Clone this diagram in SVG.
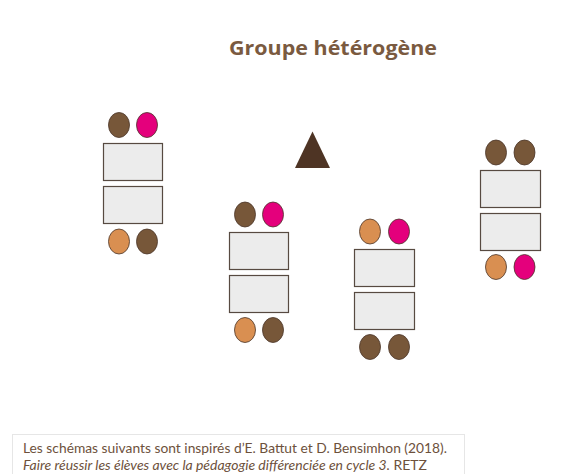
<svg xmlns="http://www.w3.org/2000/svg" width="579" height="474" viewBox="0 0 579 474">
  <style>
    .desk { fill: #ececec; stroke: #574a41; stroke-width: 1.2; }
    .p { stroke: #4a3528; stroke-width: 0.8; }
    .brown { fill: #775739; }
    .pink { fill: #e4007c; }
    .orange { fill: #d98f51; }
    .title { font-family: "Open Sans", "Liberation Sans", sans-serif; font-weight: bold; font-size: 20px; fill: #7a5a40; }
    .note { font-family: "Lato", "Liberation Sans", sans-serif; font-size: 13.5px; fill: #6d513c; }
  </style>
  <defs>
    <ellipse id="pupil" cx="0" cy="0" rx="10.5" ry="12.5"/>
  </defs>
  <rect width="579" height="474" fill="#ffffff"/>

  <text class="title" x="333" y="55" text-anchor="middle" textLength="208" lengthAdjust="spacingAndGlyphs">Groupe hétérogène</text>

  <!-- teacher -->
  <g id="teacher">
    <polygon points="312.5,131.5 295,168 330,168" fill="#4e3424"/>
  </g>

  <!-- group 1 -->
  <g id="group1">
    <rect class="desk" x="103.5" y="143.5" width="59" height="37"/>
    <rect class="desk" x="103.5" y="186.5" width="59" height="37"/>
    <ellipse class="p brown" cx="119" cy="125" rx="10.5" ry="12.5"/>
    <ellipse class="p pink" cx="147" cy="125" rx="10.5" ry="12.5"/>
    <ellipse class="p orange" cx="119" cy="241.5" rx="10.5" ry="12.5"/>
    <ellipse class="p brown" cx="147" cy="241.5" rx="10.5" ry="12.5"/>
  </g>

  <!-- group 2 -->
  <g id="group2">
    <rect class="desk" x="229.5" y="232.5" width="59" height="37"/>
    <rect class="desk" x="229.5" y="275.5" width="59" height="37"/>
    <ellipse class="p brown" cx="245" cy="214.5" rx="10.5" ry="12.5"/>
    <ellipse class="p pink" cx="273" cy="214.5" rx="10.5" ry="12.5"/>
    <ellipse class="p orange" cx="245" cy="330" rx="10.5" ry="12.5"/>
    <ellipse class="p brown" cx="273" cy="330" rx="10.5" ry="12.5"/>
  </g>

  <!-- group 3 -->
  <g id="group3">
    <rect class="desk" x="354.5" y="249.5" width="60" height="37"/>
    <rect class="desk" x="354.5" y="292.5" width="60" height="37"/>
    <ellipse class="p orange" cx="370" cy="231.5" rx="10.5" ry="12.5"/>
    <ellipse class="p pink" cx="399" cy="231.5" rx="10.5" ry="12.5"/>
    <ellipse class="p brown" cx="370" cy="347" rx="10.5" ry="12.5"/>
    <ellipse class="p brown" cx="399" cy="347" rx="10.5" ry="12.5"/>
  </g>

  <!-- group 4 -->
  <g id="group4">
    <rect class="desk" x="480.5" y="170.5" width="60" height="37"/>
    <rect class="desk" x="480.5" y="213.5" width="60" height="37"/>
    <ellipse class="p brown" cx="496" cy="152.5" rx="10.5" ry="12.5"/>
    <ellipse class="p brown" cx="524.5" cy="152.5" rx="10.5" ry="12.5"/>
    <ellipse class="p orange" cx="496" cy="267" rx="10.5" ry="12.5"/>
    <ellipse class="p pink" cx="524.5" cy="267" rx="10.5" ry="12.5"/>
  </g>

  <!-- source note -->
  <g id="source">
    <rect x="12.5" y="434.5" width="452" height="45" fill="#ffffff" stroke="#e6e6e6" stroke-width="1"/>
    <text class="note" x="23" y="452.5" textLength="424" lengthAdjust="spacingAndGlyphs">Les schémas suivants sont inspirés d’E. Battut et D. Bensimhon (2018).</text>
    <text class="note" x="23" y="469.5" textLength="404" lengthAdjust="spacingAndGlyphs"><tspan font-style="italic">Faire réussir les élèves avec la pédagogie différenciée en cycle 3.</tspan> RETZ</text>
  </g>
</svg>
